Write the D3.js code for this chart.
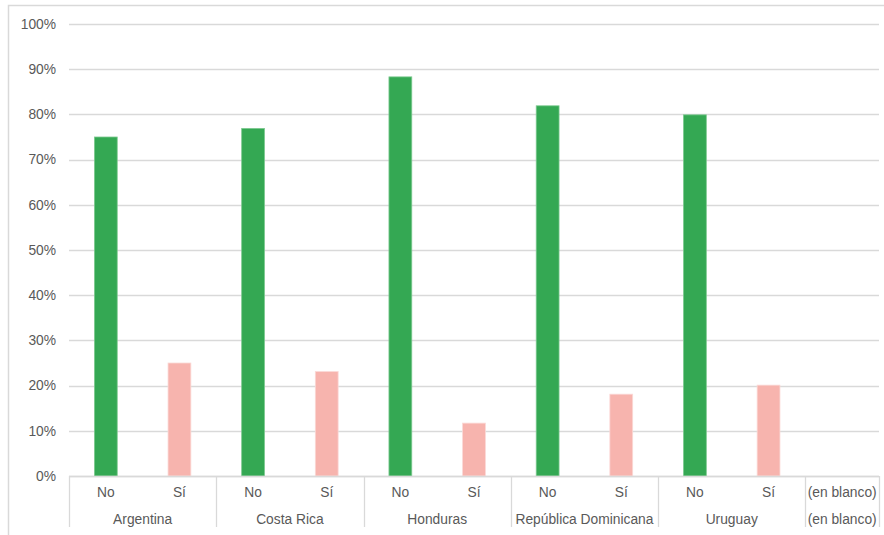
<!DOCTYPE html>
<html>
<head>
<meta charset="utf-8">
<script src="https://cdn.jsdelivr.net/npm/d3@7"></script>
<style>
    body { margin: 0; background: #fff; }
    svg { display: block; font-family: "Liberation Sans", Arial, sans-serif; }
</style>
</head>
<body>
<div id="chart"></div>
<script>
// Data
const countries = ['Argentina', 'Costa Rica', 'Honduras', 'República Dominicana', 'Uruguay', '(en blanco)'];
const answers = ['No', 'Sí'];
const noValues = [0.75, 0.769, 0.883, 0.819, 0.799, null];
const siValues = [0.25, 0.231, 0.117, 0.181, 0.201, null];
const yTicks = [0, 0.1, 0.2, 0.3, 0.4, 0.5, 0.6, 0.7, 0.8, 0.9, 1.0];

const W = 884, H = 535;
const margin = { top: 24, right: 5, bottom: 59, left: 69 };
const width = W - margin.left - margin.right;
const height = H - margin.top - margin.bottom;
const fontSize = 13.8;

// flatten into category slots
const slots = [];
countries.forEach((c, i) => {
    if (noValues[i] === null) {
        slots.push({ country: c, answer: '(en blanco)', value: null, key: c + '|blank' });
    } else {
        slots.push({ country: c, answer: answers[0], value: noValues[i], key: c + '|No' });
        slots.push({ country: c, answer: answers[1], value: siValues[i], key: c + '|Sí' });
    }
});

const svg = d3.select('#chart').append('svg')
    .attr('width', W)
    .attr('height', H);

// outer frame
svg.append('rect')
    .attr('x', 8.5).attr('y', 5.5)
    .attr('width', W + 10).attr('height', H + 10)
    .attr('fill', 'none')
    .attr('stroke', '#d9d9d9')
    .attr('stroke-width', 1.5);

const g = svg.append('g')
    .attr('transform', `translate(${margin.left},${margin.top})`);

const x = d3.scaleBand()
    .domain(slots.map(d => d.key))
    .range([0, width])
    .paddingInner(0.69)
    .paddingOuter(0.345);

const y = d3.scaleLinear()
    .domain([0, 1])
    .range([height, 0]);

// gridlines
g.append('g')
    .selectAll('line')
    .data(yTicks)
    .enter().append('line')
    .attr('x1', 0)
    .attr('x2', width)
    .attr('y1', d => Math.round(y(d)) + 0.5)
    .attr('y2', d => Math.round(y(d)) + 0.5)
    .attr('stroke', '#d9d9d9')
    .attr('stroke-width', 1.3);

// y labels
g.append('g')
    .selectAll('text')
    .data(yTicks)
    .enter().append('text')
    .attr('x', -13)
    .attr('y', d => y(d))
    .attr('dy', '0.35em')
    .attr('text-anchor', 'end')
    .attr('font-size', fontSize)
    .attr('fill', '#595959')
    .text(d3.format('.0%'));

// bars
g.append('g')
    .selectAll('rect')
    .data(slots.filter(d => d.value !== null))
    .enter().append('rect')
    .attr('x', d => x(d.key))
    .attr('y', d => y(d.value))
    .attr('width', x.bandwidth())
    .attr('height', d => height - y(d.value))
    .attr('fill', d => d.answer === 'No' ? '#34a853' : '#f7b4ae')
    .attr('stroke', d => d.answer === 'No' ? '#7cc98f' : '#fbd9d6')
    .attr('stroke-width', 0.8);

// category axis (two levels)
const step = x.step();
const axis = g.append('g').attr('transform', `translate(0,${height})`);

axis.append('line')
    .attr('x1', 0).attr('x2', width)
    .attr('y1', 0.5).attr('y2', 0.5)
    .attr('stroke', '#d9d9d9')
    .attr('stroke-width', 1.3);

axis.selectAll('.lvl1')
    .data(slots)
    .enter().append('text')
    .attr('class', 'lvl1')
    .attr('x', d => x(d.key) + x.bandwidth() / 2)
    .attr('y', 16)
    .attr('dy', '0.35em')
    .attr('text-anchor', 'middle')
    .attr('font-size', fontSize)
    .attr('fill', '#595959')
    .text(d => d.answer);

// group boundaries
const groups = countries.map(c => {
    const s = slots.filter(d => d.country === c);
    const start = x(s[0].key) - (step - x.bandwidth()) / 2;
    return { country: c, start: start, end: start + s.length * step };
});

const bounds = [groups[0].start].concat(groups.map(d => d.end));
axis.selectAll('.sep')
    .data(bounds)
    .enter().append('line')
    .attr('class', 'sep')
    .attr('x1', d => Math.round(d) + 0.5)
    .attr('x2', d => Math.round(d) + 0.5)
    .attr('y1', 0)
    .attr('y2', 51)
    .attr('stroke', '#d9d9d9')
    .attr('stroke-width', 1.3);

axis.selectAll('.lvl2')
    .data(groups)
    .enter().append('text')
    .attr('class', 'lvl2')
    .attr('x', d => (d.start + d.end) / 2)
    .attr('y', 43)
    .attr('dy', '0.35em')
    .attr('text-anchor', 'middle')
    .attr('font-size', fontSize)
    .attr('fill', '#595959')
    .text(d => d.country);
</script>
</body>
</html>
